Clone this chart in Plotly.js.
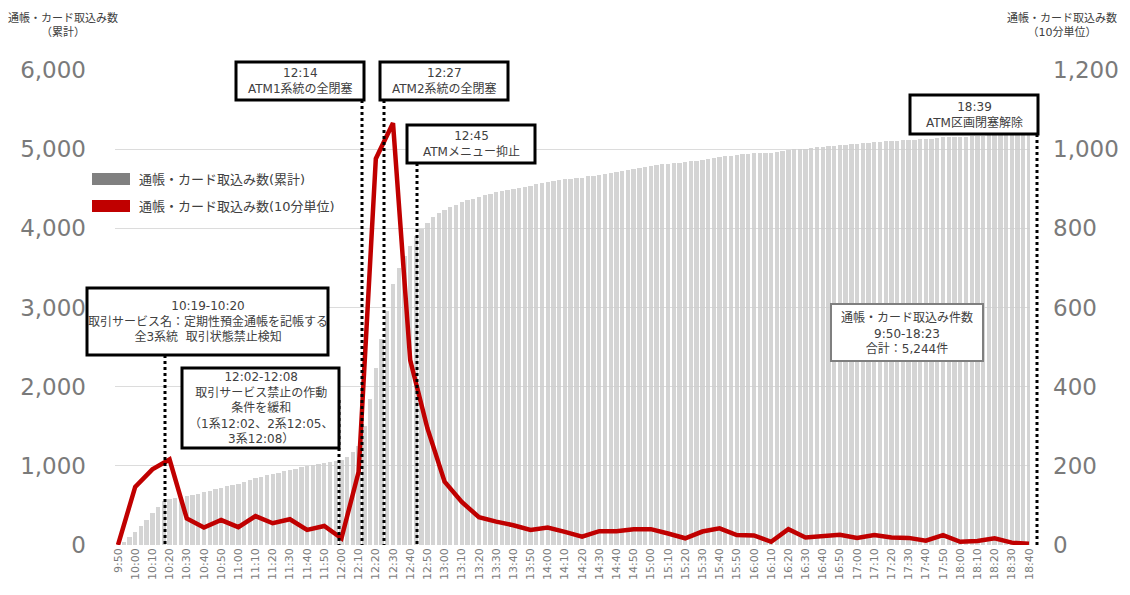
<!DOCTYPE html>
<html>
<head>
<meta charset="utf-8">
<script src="https://cdn.plot.ly/plotly-3.0.1.min.js"></script>
<style>html,body{margin:0;padding:0;background:#fff;}#chart{width:1130px;height:595px;}</style>
</head>
<body>
<div id="chart"></div>
<script>
// ---- data ----
const tickLabels = ['9:50','10:00','10:10','10:20','10:30','10:40','10:50','11:00','11:10','11:20','11:30','11:40','11:50','12:00','12:10','12:20','12:30','12:40','12:50','13:00','13:10','13:20','13:30','13:40','13:50','14:00','14:10','14:20','14:30','14:40','14:50','15:00','15:10','15:20','15:30','15:40','15:50','16:00','16:10','16:20','16:30','16:40','16:50','17:00','17:10','17:20','17:30','17:40','17:50','18:00','18:10','18:20','18:30','18:40'];
// 10-minute counts (right axis)
const perTenMin = [0,147,191,216,67,44,63,45,73,55,65,38,48,17,185,976,1066,467,295,160,109,70,59,50,38,44,33,21,35,35,40,40,29,17,34,42,25,24,8,40,19,23,26,18,25,19,18,11,25,8,10,17,6,3];
// cumulative counts (left axis), three bars per 10-minute interval
const cumulative = [40,100,170, 240,320,400, 480,550,580, 595,610,625, 635,650,665, 685,705,725, 740,755,770, 795,820,845, 865,885,900, 915,935,950, 965,980,995, 1010,1025,1040, 1052,1062,1072, 1110,1170,1250, 1500,1850,2230, 2600,2950,3300, 3500,3650,3780, 3900,3990,4070, 4140,4190,4230, 4270,4300,4330, 4355,4375,4395, 4415,4435,4455, 4470,4485,4500, 4515,4525,4540, 4555,4570,4585, 4595,4610,4620, 4628,4635,4642, 4655,4665,4677, 4688,4700,4712, 4725,4738,4752, 4765,4778,4790, 4800,4810,4818, 4824,4830,4836, 4846,4856,4866, 4878,4890,4902, 4910,4918,4926, 4933,4940,4947, 4950,4952,4955, 4967,4978,4990, 4996,5002,5008, 5015,5022,5029, 5036,5043,5050, 5056,5061,5066, 5073,5080,5087, 5092,5098,5103, 5108,5113,5118, 5121,5124,5127, 5134,5141,5148, 5150,5152,5155, 5158,5161,5164, 5169,5174,5178, 5180,5182,5183, 5184,5185,5185];
const legendNames = ['通帳・カード取込み数(累計)','通帳・カード取込み数(10分単位)'];
const leftTitle = '通帳・カード取込み数<br>（累計）';
const rightTitle = '通帳・カード取込み数<br>（10分単位）';
const notes = [
  {text:'10:19-10:20<br>取引サービス名：定期性預金通帳を記帳する<br>全3系統  取引状態禁止検知'},
  {text:'12:02-12:08<br>取引サービス禁止の作動<br>条件を緩和<br>（1系12:02、2系12:05、<br>3系12:08）'},
  {text:'12:14<br>ATM1系統の全閉塞'},
  {text:'12:27<br>ATM2系統の全閉塞'},
  {text:'12:45<br>ATMメニュー抑止'},
  {text:'18:39<br>ATM区画閉塞解除'},
  {text:'通帳・カード取込み件数<br>9:50-18:23<br>合計：5,244件'}
];

// ---- layout helpers ----
const L = 115, R = 1030, T = 70, B = 545;
const px = x => (x - L) / (R - L);
const py = y => (B - y) / (B - T);
const toMin = s => { const [h, m] = s.split(':').map(Number); return h * 60 + m - 590; };
const tickX = tickLabels.map(toMin);
const step = 10 / 3;
const barX = cumulative.map((_, i) => (i + 1) * step);

const FONT = 'DejaVu Sans, Noto Sans CJK JP, sans-serif';
const TXT = '#404040';
const AXC = '#7a7a7a';

const traces = [
  {type:'bar', x: barX, y: cumulative, name: legendNames[0], width: step * 0.76,
   marker:{color:'rgb(205,205,205)', opacity:0.85, line:{width:0}}, yaxis:'y', hoverinfo:'x+y'},
  {type:'scatter', mode:'lines', x: tickX, y: perTenMin, name: legendNames[1], yaxis:'y2',
   line:{color:'#c00000', width:4.5, shape:'linear'}}
];

// box geometry in pixels: [x0, y0, x1, y1, lineX, lineY0, style]
const boxes = [
  [87, 288, 328, 355, 165, 355, 'k'],
  [182, 368, 339, 448, 339, 400, 'k'],
  [236, 62, 364, 100, 362, 100, 'k'],
  [380, 62, 508, 100, 384, 100, 'k'],
  [407, 125, 535, 163, 417, 163, 'k'],
  [910, 95, 1038, 134, 1037, 134, 'k'],
  [831, 304, 983, 361, null, null, 'g']
];

const shapes = [];
const annotations = [];
boxes.forEach((b, i) => {
  if (b[4] !== null) {
    shapes.push({type:'line', xref:'paper', yref:'paper', x0:px(b[4]), x1:px(b[4]), y0:py(b[5]), y1:py(B),
      line:{color:'#000', width:3, dash:'dot'}, layer:'above'});
  }
  shapes.push({type:'rect', xref:'paper', yref:'paper', x0:px(b[0]), x1:px(b[2]), y0:py(b[3]), y1:py(b[1]),
    fillcolor:'#fff', line:{color: b[6] === 'k' ? '#000' : '#7f7f7f', width: b[6] === 'k' ? 3 : 2}, layer:'above'});
  annotations.push({xref:'paper', yref:'paper', x:px((b[0] + b[2]) / 2), y:py((b[1] + b[3]) / 2),
    xanchor:'center', yanchor:'middle', showarrow:false, text:notes[i].text,
    font:{family:FONT, size:12, color:TXT}, align:'center'});
});

// custom legend
shapes.push({type:'rect', xref:'paper', yref:'paper', x0:px(92), x1:px(130), y0:py(185), y1:py(173), fillcolor:'#808080', line:{width:0}, layer:'above'});
shapes.push({type:'rect', xref:'paper', yref:'paper', x0:px(92), x1:px(130), y0:py(212), y1:py(200), fillcolor:'#c00000', line:{width:0}, layer:'above'});
annotations.push({xref:'paper', yref:'paper', x:px(137), y:py(179), xanchor:'left', yanchor:'middle', showarrow:false,
  text:legendNames[0], font:{family:FONT, size:13, color:TXT}});
annotations.push({xref:'paper', yref:'paper', x:px(137), y:py(206), xanchor:'left', yanchor:'middle', showarrow:false,
  text:legendNames[1], font:{family:FONT, size:13, color:TXT}});

// axis titles
annotations.push({xref:'paper', yref:'paper', x:px(63), y:py(25), xanchor:'center', yanchor:'middle', showarrow:false,
  text:leftTitle, font:{family:FONT, size:11, color:TXT}});
annotations.push({xref:'paper', yref:'paper', x:px(1062), y:py(25), xanchor:'center', yanchor:'middle', showarrow:false,
  text:rightTitle, font:{family:FONT, size:11, color:TXT}});

const layout = {
  width:1130, height:595,
  margin:{l:L, r:1130 - R, t:T, b:595 - B},
  paper_bgcolor:'#fff', plot_bgcolor:'#fff',
  showlegend:false,
  bargap:0,
  font:{family:FONT, color:AXC},
  xaxis:{range:[-1.75, 530.6], tickmode:'array', tickvals:tickX, ticktext:tickLabels, tickangle:-90,
    tickfont:{family:FONT, size:11, color:AXC}, showgrid:false, zeroline:false, showline:false, ticks:'', fixedrange:true},
  yaxis:{range:[0, 6000], dtick:1000, tickformat:',d', gridcolor:'#dcdcdc', gridwidth:1, zeroline:false, showline:false,
    tickfont:{family:FONT, size:23, color:AXC}, ticklabelstandoff:28},
  yaxis2:{range:[0, 1200], dtick:200, tickformat:',d', overlaying:'y', side:'right', showgrid:false, zeroline:false, showline:false,
    tickfont:{family:FONT, size:23, color:AXC}, ticklabelstandoff:22},
  shapes: shapes,
  annotations: annotations
};

Plotly.newPlot('chart', traces, layout, {displayModeBar:false, staticPlot:true});
</script>
</body>
</html>
